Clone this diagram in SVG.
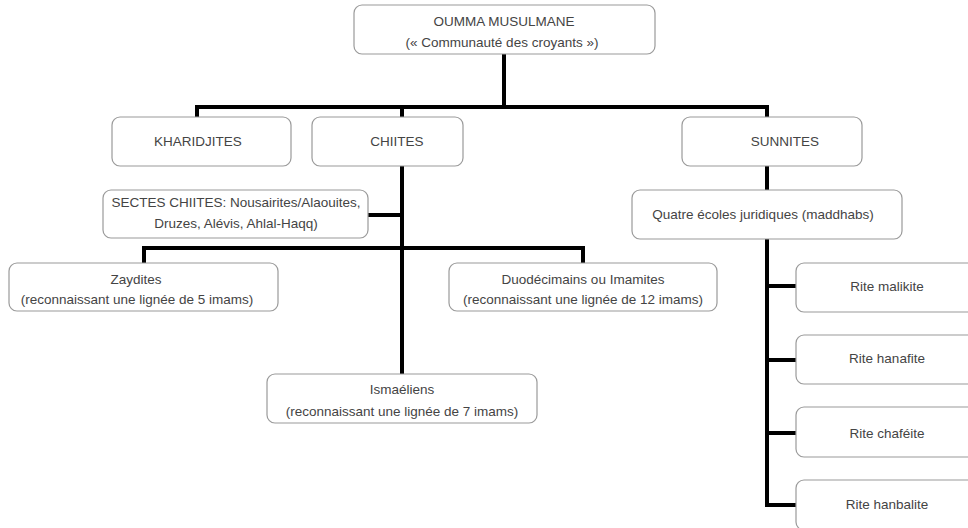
<svg xmlns="http://www.w3.org/2000/svg" width="968" height="528" viewBox="0 0 968 528">
<style>
.b{fill:#fff;stroke:#9a9a9a;stroke-width:1.2}
.t{font-family:"Liberation Sans",Arial,sans-serif;font-size:13.5px;fill:#444;text-anchor:middle}
.c{fill:none;stroke:#000;stroke-width:4;stroke-linejoin:miter;stroke-linecap:square}
</style>
<rect width="968" height="528" fill="#fff"/>
<g id="connectors">
<path class="c" d="M504 54V107M197 117V107H767V117M402 107V117"/>
<path class="c" d="M402 166V374M368 215H402M144 263V248H583V263"/>
<path class="c" d="M767 166V190M767 239V505H796M767 286H796M767 360H796M767 433H796"/>
</g>
<g id="oumma"><rect class="b" x="354" y="5" width="301" height="49" rx="8"/><text class="t" x="504" y="26">OUMMA MUSULMANE</text><text class="t" x="502" y="47">(« Communauté des croyants »)</text></g>
<g id="kharidjites"><rect class="b" x="112" y="117" width="179" height="49" rx="8"/><text class="t" x="198" y="146">KHARIDJITES</text></g>
<g id="chiites"><rect class="b" x="312" y="117" width="151" height="49" rx="8"/><text class="t" x="397" y="146">CHIITES</text></g>
<g id="sunnites"><rect class="b" x="682" y="117" width="180" height="49" rx="8"/><text class="t" x="785" y="146">SUNNITES</text></g>
<g id="sectes"><rect class="b" x="103" y="190" width="265" height="48" rx="8"/><text class="t" x="236" y="207">SECTES CHIITES: Nousairites/Alaouites,</text><text class="t" x="236" y="228">Druzes, Alévis, Ahlal-Haqq)</text></g>
<g id="quatre"><rect class="b" x="632" y="190" width="270" height="49" rx="8"/><text class="t" x="763" y="219">Quatre écoles juridiques (maddhabs)</text></g>
<g id="zaydites"><rect class="b" x="9" y="263" width="269" height="48" rx="8"/><text class="t" x="136" y="284">Zaydites</text><text class="t" x="137" y="304">(reconnaissant une lignée de 5 imams)</text></g>
<g id="duodecimains"><rect class="b" x="449" y="263" width="268" height="48" rx="8"/><text class="t" x="583" y="284">Duodécimains ou Imamites</text><text class="t" x="583" y="304">(reconnaissant une lignée de 12 imams)</text></g>
<g id="ismaeliens"><rect class="b" x="267" y="374" width="270" height="49" rx="8"/><text class="t" x="402" y="394">Ismaéliens</text><text class="t" x="402" y="416">(reconnaissant une lignée de 7 imams)</text></g>
<g id="malikite"><rect class="b" x="796" y="263" width="184" height="49" rx="8"/><text class="t" x="887" y="291">Rite malikite</text></g>
<g id="hanafite"><rect class="b" x="796" y="335" width="184" height="49" rx="8"/><text class="t" x="887" y="363">Rite hanafite</text></g>
<g id="chafeite"><rect class="b" x="796" y="407" width="184" height="50" rx="8"/><text class="t" x="887" y="438">Rite chaféite</text></g>
<g id="hanbalite"><rect class="b" x="796" y="480" width="184" height="50" rx="8"/><text class="t" x="887" y="509">Rite hanbalite</text></g>
</svg>
